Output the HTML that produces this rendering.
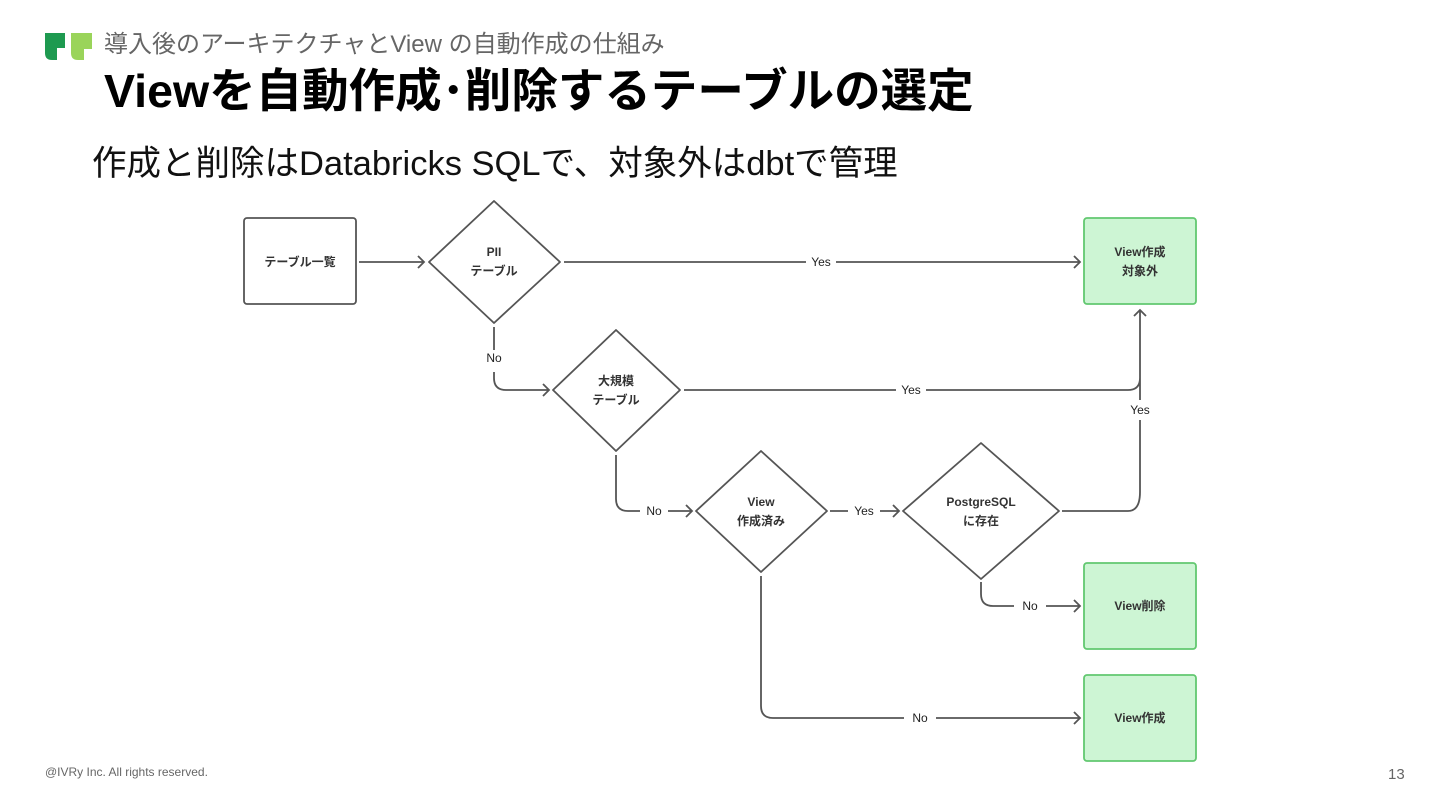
<!DOCTYPE html>
<html><head><meta charset="utf-8"><style>
html,body{margin:0;padding:0;background:#fff;}
body{width:1440px;height:810px;position:relative;overflow:hidden;font-family:"Liberation Sans","Noto Sans CJK JP",sans-serif;}
.t{position:absolute;white-space:nowrap;}
</style></head><body>
<svg width="1440" height="810" style="position:absolute;left:0;top:0" xmlns="http://www.w3.org/2000/svg">
<path d="M45 33 H65 V48 H57 V60 H52 Q45 60 45 53 Z" fill="#1e9a50"/>
<path d="M71 33 H92 V49 H84 V60 H78 Q71 60 71 53 Z" fill="#9ad45a"/>
<g fill="none" stroke="#555" stroke-width="1.8">
<rect x="244" y="218" width="112" height="86" rx="3" fill="#fff"/>
<polygon points="494,201 560,262 494,323 429,262" stroke-linejoin="round"/>
<polygon points="616,330 680,390 616,451 553,390" stroke-linejoin="round"/>
<polygon points="761,451 827,511 761,572 696,511" stroke-linejoin="round"/>
<polygon points="981,443 1059,511 981,579 903,511" stroke-linejoin="round"/>
<path d="M359 262 H424 M418 256 L424 262 L418 268"/>
<path d="M564 262 H806 M836 262 H1080 M1074 256 L1080 262 L1074 268"/>
<path d="M494 327 V350 M494 372 V378 Q494 390 506 390 H549 M543 384 L549 390 L543 396"/>
<path d="M684 390 H896 M926 390 H1128 Q1140 390 1140 378 V400 M1140 420 V492 Q1140 511 1128 511 H1062"/>
<path d="M1140 378 V310 M1134 316 L1140 310 L1146 316"/>
<path d="M616 455 V499 Q616 511 628 511 H640 M668 511 H692 M686 505 L692 511 L686 517"/>
<path d="M830 511 H848 M880 511 H899 M893 505 L899 511 L893 517"/>
<path d="M981 582 V594 Q981 606 993 606 H1014 M1046 606 H1080 M1074 600 L1080 606 L1074 612"/>
<path d="M761 576 V706 Q761 718 773 718 H904 M936 718 H1080 M1074 712 L1080 718 L1074 724"/>
</g>
<g fill="#cdf5d4" stroke="#62c870" stroke-width="1.8">
<rect x="1084" y="218" width="112" height="86" rx="3"/>
<rect x="1084" y="563" width="112" height="86" rx="3"/>
<rect x="1084" y="675" width="112" height="86" rx="3"/>
</g>
<g font-family="Liberation Sans,Noto Sans CJK JP,sans-serif" font-size="12" fill="#333" text-anchor="middle" font-weight="bold">
<text x="300" y="266">テーブル一覧</text>
<text x="494" y="256">PII</text><text x="494" y="275">テーブル</text>
<text x="616" y="385">大規模</text><text x="616" y="404">テーブル</text>
<text x="761" y="506">View</text><text x="761" y="525">作成済み</text>
<text x="981" y="506">PostgreSQL</text><text x="981" y="525">に存在</text>
<text x="1140" y="256">View作成</text><text x="1140" y="275">対象外</text>
<text x="1140" y="610">View削除</text>
<text x="1140" y="722">View作成</text>
</g>
<g font-family="Liberation Sans,Noto Sans CJK JP,sans-serif" font-size="12" fill="#222" text-anchor="middle">
<text x="821" y="266">Yes</text>
<text x="494" y="362">No</text>
<text x="911" y="394">Yes</text>
<text x="1140" y="414">Yes</text>
<text x="654" y="515">No</text>
<text x="864" y="515">Yes</text>
<text x="1030" y="610">No</text>
<text x="920" y="722">No</text>
</g>
</svg>
<div class="t" style="left:104px;top:31px;font-size:24px;color:#666;line-height:28px;">導入後のアーキテクチャとView の自動作成の仕組み</div>
<div class="t" style="left:104px;top:62px;font-size:46.5px;font-weight:bold;color:#000;line-height:58px;">Viewを自動作成･削除するテーブルの選定</div>
<div class="t" style="left:92px;top:142px;font-size:34.5px;color:#111;line-height:44px;">作成と削除はDatabricks SQLで、対象外はdbtで管理</div>
<div class="t" style="left:45px;top:765px;font-size:12px;color:#666;">@IVRy Inc. All rights reserved.</div>
<div class="t" style="left:1388px;top:766px;font-size:15px;color:#666;">13</div>
</body></html>
